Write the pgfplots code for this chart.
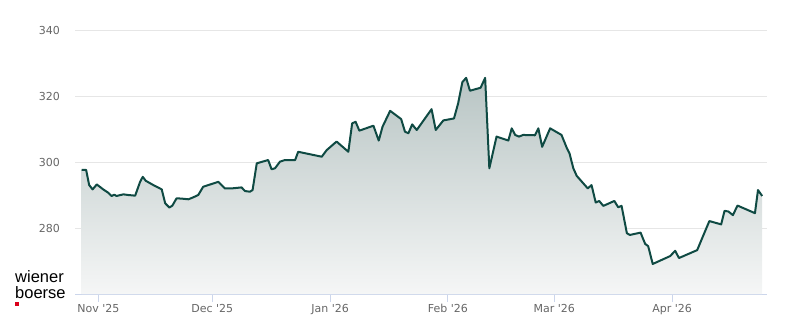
\documentclass[border=0pt]{standalone}
\usepackage{pgfplots}
\pgfplotsset{compat=1.18}
\usepackage{pgfplotstable}
\usepackage{fontspec}
\setmainfont{DejaVu Sans}
\newfontfamily\logofont{Liberation Sans}
\definecolor{linec}{RGB}{15,74,67}
\definecolor{gridc}{RGB}{230,230,230}
\definecolor{axisc}{RGB}{204,214,235}
\definecolor{labc}{RGB}{102,102,102}
\definecolor{logored}{RGB}{218,0,27}
\definecolor{filltop}{RGB}{184,197,196}
\definecolor{fillbot}{RGB}{245,246,246}
% d = days since 1 Nov 2025, v = price
\pgfplotstableread{
d v
-4.4 297.6
-3.2 297.6
-2.4 293.0
-1.5 291.7
-0.4 293.2
1.3 291.7
2.6 290.7
3.5 289.7
4.2 290.1
4.8 289.7
5.5 289.9
6.6 290.2
7.9 290.0
9.7 289.8
11.0 294.0
11.7 295.5
12.5 294.3
14.5 293.0
16.7 291.7
17.6 287.5
18.7 286.2
19.5 286.8
20.6 289.0
22.0 288.9
23.7 288.7
25.0 289.3
26.3 290.0
27.6 292.5
31.6 294.0
33.3 292.0
35.1 292.0
37.7 292.3
38.6 291.2
39.9 291.0
40.6 291.5
41.7 299.6
44.7 300.6
45.6 297.8
46.5 298.1
47.8 300.1
49.1 300.6
51.8 300.6
52.6 303.1
58.8 301.6
60.1 303.6
62.7 306.2
65.8 303.1
66.8 311.7
67.7 312.2
68.7 309.5
72.4 311.0
73.8 306.5
74.8 310.7
76.8 315.5
79.7 313.0
80.7 309.2
81.6 308.7
82.6 311.4
83.8 309.7
87.7 316.0
88.8 309.7
90.8 312.6
93.6 313.2
94.7 317.8
95.8 324.2
96.8 325.5
97.8 321.6
100.6 322.5
101.8 325.5
102.9 298.1
104.8 307.7
107.9 306.5
108.8 310.2
109.7 308.2
110.7 307.7
111.8 308.2
114.9 308.1
115.8 310.2
116.8 304.6
118.9 310.2
121.9 308.2
123.3 304.2
124.0 302.6
125.0 298.1
125.9 295.8
128.8 292.0
129.8 293.0
130.9 287.7
131.8 288.2
132.9 286.7
135.8 288.2
136.8 286.3
137.7 286.7
139.1 278.4
139.9 277.9
142.7 278.6
143.9 275.2
144.7 274.5
145.9 269.1
150.5 271.5
151.8 273.1
152.8 270.9
157.6 273.3
158.9 276.9
160.8 282.1
163.9 281.1
164.8 285.2
165.8 285.0
167.0 283.9
168.2 286.8
172.8 284.5
173.6 291.5
174.7 289.7
}\pricedata

\begin{document}
\begin{tikzpicture}[x=1pt,y=1pt]
\useasboundingbox (0,0) rectangle (800,324);
\begin{axis}[
  at={(75pt,30pt)}, anchor=south west,
  scale only axis, width=692pt, height=264pt,
  xmin=-6.13, xmax=175.97, ymin=260, ymax=340,
  axis x line*=bottom, axis y line*=left,
  x axis line style={draw=axisc, line width=1pt, -},
  y axis line style={draw=none},
  ytick={280,300,320,340},
  ymajorgrids, grid style={gridc, line width=1pt},
  xtick={0,30,61,92,120,151},
  xticklabels={Nov \textquotesingle25, Dec \textquotesingle25, Jan \textquotesingle26, Feb \textquotesingle26, Mar \textquotesingle26, Apr \textquotesingle26},
  xtick align=outside,
  x tick style={draw=axisc, line width=1pt},
  major tick length=8pt,
  y tick style={draw=none},
  /pgf/number format/assume math mode=true,
  ticklabel style={font=\fontsize{11}{13}\selectfont, text=labc},
  yticklabel style={inner sep=0pt, anchor=east, xshift=-15pt},
  xticklabel style={inner sep=0pt, anchor=north, yshift=-2pt},
]
\addplot[draw=none, top color=filltop, bottom color=fillbot] table[x=d,y=v] {\pricedata} |- (axis cs:-4.4,260) -- cycle;
\addplot[linec, line width=2pt, line join=round, no marks] table[x=d,y=v] {\pricedata};
\end{axis}
\node[anchor=base west, inner sep=0pt, font=\logofont\fontsize{16.5}{16.5}\selectfont] at (15,41.3) {wiener};
\node[anchor=base west, inner sep=0pt, font=\logofont\fontsize{16.5}{16.5}\selectfont] at (15,25.9) {boerse};
\fill[logored] (15,18) rectangle (19,22);
\end{tikzpicture}
\end{document}
